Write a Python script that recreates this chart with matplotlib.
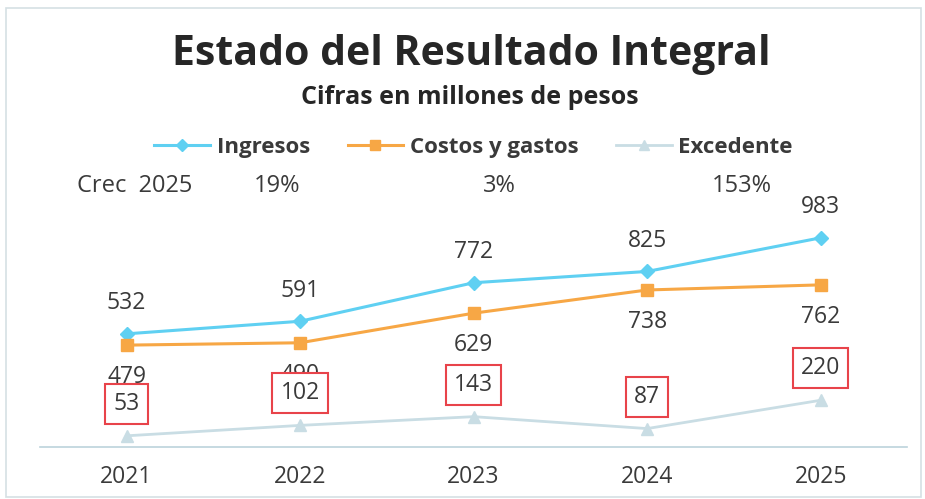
import matplotlib.pyplot as plt
import numpy as np

# datos del gráfico
years = ["2021", "2022", "2023", "2024", "2025"]
ingresos = [532, 591, 772, 825, 983]
costos = [479, 490, 629, 738, 762]
excedente = [53, 102, 143, 87, 220]
crec_labels = ["19%", "3%", "153%"]

plt.rcParams["font.family"] = ["Open Sans", "DejaVu Sans"]

fig = plt.figure(figsize=(9.25, 4.99), dpi=100)
ax = fig.add_axes([0.043, 0.104, 0.938, 0.512])

x = np.arange(len(years))
c_ing = "#5fd0f2"
c_cos = "#f7a745"
c_exc = "#c9dde4"
txt = "#3a3a3a"

ax.plot(x, ingresos, color=c_ing, marker="D", markersize=7, linewidth=2.2, label="Ingresos")
ax.plot(x, costos, color=c_cos, marker="s", markersize=9, linewidth=2.2, label="Costos y gastos")
ax.plot(x, excedente, color=c_exc, marker="^", markersize=8, linewidth=2.0, label="Excedente")

for i in range(len(years)):
    ax.annotate(str(ingresos[i]), (x[i], ingresos[i]), xytext=(0, 22), textcoords="offset points",
                ha="center", va="center", fontsize=16.5, color=txt)
    ax.annotate(str(costos[i]), (x[i], costos[i]), xytext=(0, -23), textcoords="offset points",
                ha="center", va="center", fontsize=16.5, color=txt)
    ax.annotate(str(excedente[i]), (x[i], excedente[i]), xytext=(0, 23), textcoords="offset points",
                ha="center", va="center", fontsize=16.5, color=txt,
                bbox=dict(boxstyle="square,pad=0.35", facecolor="white", edgecolor="#e8434a", linewidth=1.5))

ax.set_xlim(-0.5, 4.5)
ax.set_ylim(0, 1200)
ax.set_xticks(x)
ax.set_xticklabels(years, fontsize=16.5, color=txt)
ax.tick_params(axis="x", length=0, pad=13)
ax.set_yticks([])
for s in ["top", "right", "left"]:
    ax.spines[s].set_visible(False)
ax.spines["bottom"].set_color("#bcd3dc")
ax.spines["bottom"].set_linewidth(1.2)

fig.text(0.51, 0.89, "Estado del Resultado Integral", ha="center", va="center",
         fontsize=29.5, fontweight="bold", color="#262626")
fig.text(0.508, 0.805, "Cifras en millones de pesos", ha="center", va="center",
         fontsize=18, fontweight="bold", color="#262626")

fig.legend(loc="center", bbox_to_anchor=(0.512, 0.705), ncol=3, frameon=False,
           handlelength=2.5, columnspacing=1.7, handletextpad=0.3, markerscale=0.85,
           labelcolor=txt, prop={"weight": "bold", "size": 16})

fig.text(0.146, 0.628, "Crec  2025", ha="center", va="center", fontsize=17, color=txt)
crec_x = [0.30, 0.54, 0.802]
for cx, lab in zip(crec_x, crec_labels):
    fig.text(cx, 0.628, lab, ha="center", va="center", fontsize=17, color=txt)

# marco
frame = plt.Rectangle((0.006, 0.004), 0.99, 0.98, transform=fig.transFigure, fill=False,
                      edgecolor="#d5e0e4", linewidth=1.2)
fig.add_artist(frame)

fig.savefig("out.png", dpi=100)
